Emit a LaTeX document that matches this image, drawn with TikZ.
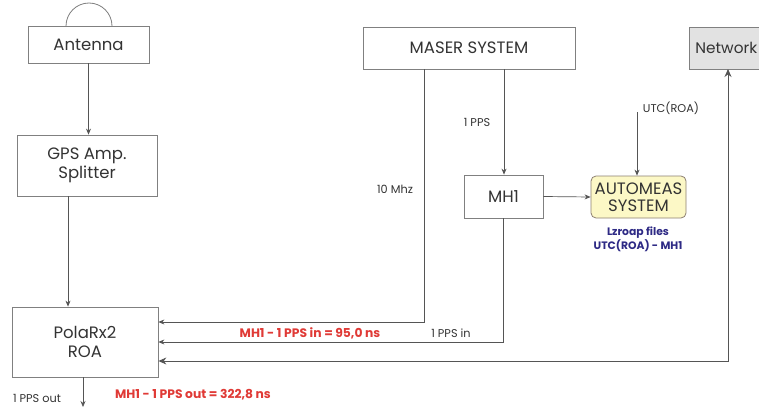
\documentclass[tikz,border=0pt]{standalone}
\usepackage{fontspec}
\setmainfont{Poppins}
\usetikzlibrary{arrows.meta}
\definecolor{boxline}{HTML}{808080}
\definecolor{wire}{HTML}{555555}
\definecolor{txt}{HTML}{333333}
\definecolor{redlab}{HTML}{E03A36}
\definecolor{bluelab}{HTML}{2E2A85}
\definecolor{autofill}{HTML}{FCF8C6}
\definecolor{netfill}{HTML}{E2E2E2}
\tikzset{
  box/.style={draw=boxline, line width=0.8pt, text=txt, font=\fontsize{16.5}{18.5}\selectfont, align=center, inner sep=0pt},
  arr/.style={draw=wire, line width=0.7pt, -{Stealth[length=6pt,width=5pt]}},
  lab/.style={text=txt, font=\fontsize{11.3}{13}\selectfont, inner sep=0pt},
  redl/.style={text=redlab, font=\fontsize{12.3}{14}\selectfont\bfseries, inner sep=0pt},
  bluel/.style={text=bluelab, font=\fontsize{10.8}{14}\selectfont\bfseries, inner sep=0pt, align=center},
}
\begin{document}
\begin{tikzpicture}[x=1pt,y=-1pt]
\useasboundingbox (0,0) rectangle (759,409);
\clip (0,0) rectangle (759,409);
\fill[white] (0,0) rectangle (759,409);
% boxes
\node[box, minimum width=121pt, minimum height=37pt] (ant) at (88.5,44.5) {Antenna};
\draw[boxline, line width=0.8pt] (66,26) arc[start angle=180, end angle=360, radius=23];
\node[box, minimum width=140pt, minimum height=61pt] (gps) at (87,165.5) {GPS Amp.\\Splitter};
\node[box, minimum width=146pt, minimum height=70pt] (rx) at (85,342) {PolaRx2\\ROA};
\node[box, minimum width=212pt, minimum height=42pt] (maser) at (469,48) {MASER SYSTEM};
\node[box, minimum width=79pt, minimum height=43pt] (mh1) at (503.5,196.5) {MH1};
\node[box, draw=boxline!80!brown, fill=autofill, rounded corners=5pt, minimum width=95pt, minimum height=42pt] (auto) at (638.5,197) {AUTOMEAS\\[-2pt]SYSTEM};
\node[box, fill=netfill, minimum width=88pt, minimum height=42pt, anchor=west, text width=80pt, align=left, font=\fontsize{15.3}{17}\selectfont] (net) at (689,48) {\hspace{2pt}Network};
% connectors
\draw[arr] (ant.south) -- (ant.south |- gps.north);
\draw[arr] ([xshift=-19pt]gps.south) -- ([xshift=-19pt]gps.south |- rx.north);
\draw[arr] ([xshift=-45pt]maser.south) |- ([yshift=20pt]rx.east);
\draw[arr] ([xshift=35pt]maser.south) -- ([xshift=35pt]maser.south |- mh1.north);
\draw[arr] (mh1.south) |- (rx.east);
\draw[arr] (mh1.east) -- (auto.west);
\coordinate (utc) at (637,112);
\draw[arr] (utc) -- (utc |- auto.north);
\coordinate (netdown) at (728,69);
\draw[draw=wire, line width=0.9pt, {Stealth[length=8pt,width=7pt]}-{Stealth[length=8pt,width=7pt]}] ([yshift=-19pt]rx.east) -| (netdown);
\coordinate (ppsout) at (83,407);
\draw[arr] (rx.south -| ppsout) -- (ppsout);
% labels
\node[lab] (l1pps) at (477,122) {1 PPS};
\node[lab] (l10) at (395,189) {10 Mhz};
\node[lab] (lin) at (451,333) {1 PPS in};
\node[lab] (lutc) at (671,108) {UTC(ROA)};
\node[lab] (lout) at (37,398) {1 PPS out};
\node[redl] (rin) at (310,333) {MH1 - 1 PPS in = 95,0 ns};
\node[redl] (rout) at (193,395) {MH1 - 1 PPS out = 322,8 ns};
\node[bluel] (blue) at (638,239) {Lzroap files\\UTC(ROA) - MH1};
\end{tikzpicture}
\end{document}
